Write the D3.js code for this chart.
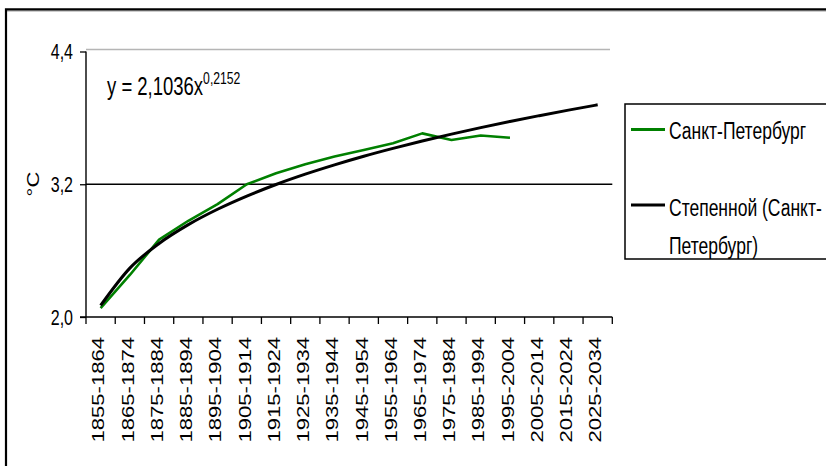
<!DOCTYPE html>
<html>
<head>
<meta charset="utf-8">
<script src="https://cdn.jsdelivr.net/npm/d3@7"></script>
<style>
  html, body { margin: 0; padding: 0; background: #fff; }
  svg { display: block; }
  text { font-family: "Liberation Sans", Arial, sans-serif; fill: #000; }
</style>
</head>
<body>
<div id="chart"></div>
<script>
// Decade periods on the category axis
const periods = [
  "1855-1864", "1865-1874", "1875-1884", "1885-1894", "1895-1904", "1905-1914",
  "1915-1924", "1925-1934", "1935-1944", "1945-1954", "1955-1964", "1965-1974",
  "1975-1984", "1985-1994", "1995-2004", "2005-2014", "2015-2024", "2025-2034"
];
// Mean temperature per decade, Saint Petersburg (°C)
const spbValues = [2.08, 2.38, 2.70, 2.87, 3.02, 3.20, 3.30, 3.38, 3.45, 3.51, 3.57, 3.66, 3.60, 3.64, 3.62];
// Power trend y = 2,1036x^0,2152, value at each period (x = 1..18)
const trendValues = [2.104, 2.442, 2.665, 2.835, 2.974, 3.093, 3.198, 3.291, 3.375,
                     3.453, 3.524, 3.591, 3.653, 3.712, 3.768, 3.820, 3.870, 3.918];
const yTicks = [2.0, 3.2, 4.4];
const seriesNames = ["Санкт-Петербург", "Степенной (Санкт-", "Петербург)"];

const W = 826, H = 466;
const K = 1.38; // vertical text stretch

const svg = d3.select("#chart").append("svg")
  .attr("width", W).attr("height", H);

svg.append("rect").attr("width", W).attr("height", H).attr("fill", "#fff");

// chart frame
svg.append("line").attr("x1", 5).attr("x2", W).attr("y1", 11).attr("y2", 11)
  .attr("stroke", "#bdbdbd").attr("stroke-width", 1.5);
svg.append("path").attr("d", `M6,${H + 5} L6,9.3 L${W + 5},9.3`)
  .attr("fill", "none").attr("stroke", "#000").attr("stroke-width", 2.2);

const x = d3.scaleBand().domain(periods).range([86, 612.3]).paddingInner(0).paddingOuter(0);
const y = d3.scaleLinear().domain([2.0, 4.4]).range([317, 51.5]);
const cx = p => x(p) + x.bandwidth() / 2;

// helper: stretched text
function sText(g, tx, ty, str, size, opts = {}) {
  const t = g.append("text")
    .attr("transform", `translate(${tx},${ty}) scale(1,${K})` + (opts.rotate ? " rotate(-90)" : ""))
    .attr("font-size", size)
    .attr("text-anchor", opts.anchor || "start");
  if (opts.dy) t.attr("dy", opts.dy);
  t.text(str);
  return t;
}

// top border of plot area
svg.append("line").attr("x1", 86).attr("x2", 610).attr("y1", 49.5).attr("y2", 49.5)
  .attr("stroke", "#b5b5b5").attr("stroke-width", 1.5);

// gridline at 3,2
svg.append("line").attr("x1", 86).attr("x2", 612.3).attr("y1", y(3.2)).attr("y2", y(3.2))
  .attr("stroke", "#000").attr("stroke-width", 1.3);

// y axis
const yAxis = d3.axisLeft(y).tickValues(yTicks).tickSize(6).tickFormat(() => "");
const gy = svg.append("g").attr("transform", "translate(86,0)").call(yAxis);
gy.select(".domain").attr("stroke", "#000").attr("stroke-width", 1.4).attr("d", `M0,${y(4.4)}V${y(2.0)}`);
gy.selectAll(".tick line").attr("stroke", "#000").attr("stroke-width", 1.3);

const fmt = v => d3.format(".1f")(v).replace(".", ",");
yTicks.forEach(v => {
  sText(svg, 73, y(v) + 0.716 * 16 * K / 2, fmt(v), 16, { anchor: "end" });
});

// y axis title
sText(svg, 33 + 0.716 * 16 / 2, 184, "°C", 16, { rotate: true, anchor: "middle" });

// x axis
svg.append("line").attr("x1", 80).attr("x2", 612.3).attr("y1", y(2.0)).attr("y2", y(2.0))
  .attr("stroke", "#000").attr("stroke-width", 1.6);
const bounds = periods.map(p => x(p)).concat([x(periods[periods.length - 1]) + x.bandwidth()]);
svg.selectAll(".xtick").data(bounds).join("line").attr("class", "xtick")
  .attr("x1", d => d).attr("x2", d => d)
  .attr("y1", y(2.0)).attr("y2", y(2.0) + 7)
  .attr("stroke", "#000").attr("stroke-width", 1.3);

periods.forEach(p => {
  sText(svg, cx(p) - 2, 337, p, 16, { rotate: true, anchor: "end", dy: "0.36em" });
});

// data line
const lineGen = d3.line()
  .x((d, i) => cx(periods[i]))
  .y(d => y(d));
svg.append("path").datum(spbValues)
  .attr("d", lineGen)
  .attr("fill", "none").attr("stroke", "#008000").attr("stroke-width", 2.6)
  .attr("stroke-linejoin", "round");

// power trendline
const trendGen = d3.line()
  .x((d, i) => cx(periods[i]))
  .y(d => y(d))
  .curve(d3.curveMonotoneX);
svg.append("path").datum(trendValues)
  .attr("d", trendGen)
  .attr("fill", "none").attr("stroke", "#000").attr("stroke-width", 3)
  .attr("stroke-linejoin", "round");

// equation label
const eq = svg.append("text")
  .attr("transform", `translate(107,95) scale(1,${K})`)
  .attr("font-size", 18.5);
eq.append("tspan").text("y = 2,1036x");
eq.append("tspan").attr("font-size", 12.2).attr("dy", -8).text("0,2152");

// legend
svg.append("rect").attr("x", 625).attr("y", 104).attr("width", 240).attr("height", 155)
  .attr("fill", "#fff").attr("stroke", "#000").attr("stroke-width", 1.5);
svg.append("line").attr("x1", 631).attr("x2", 665).attr("y1", 129.5).attr("y2", 129.5)
  .attr("stroke", "#008000").attr("stroke-width", 3);
svg.append("line").attr("x1", 631).attr("x2", 665).attr("y1", 205).attr("y2", 205)
  .attr("stroke", "#000").attr("stroke-width", 3);
sText(svg, 669, 138.5, seriesNames[0], 17.5);
sText(svg, 669, 215.5, seriesNames[1], 17.5);
sText(svg, 669, 253.5, seriesNames[2], 17.5);
</script>
</body>
</html>
